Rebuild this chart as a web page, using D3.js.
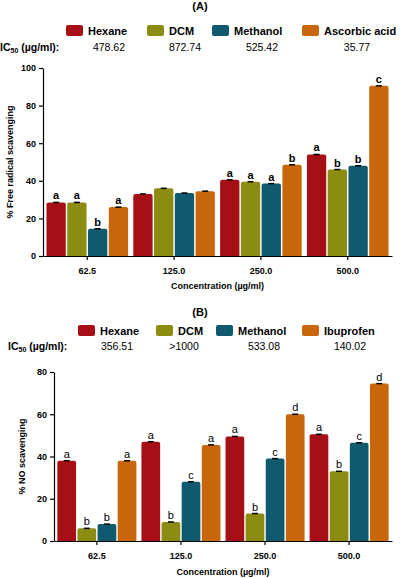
<!DOCTYPE html><html><head><meta charset="utf-8"><script src="https://cdn.jsdelivr.net/npm/d3@7"></script>
<style>body{margin:0;background:#fff}text{font-family:Arial,"Liberation Sans",sans-serif}</style></head><body><svg id="c" width="400" height="578"></svg>
<script>
const categories=["62.5","125.0","250.0","500.0"];
const colors=["#a50f15","#8c8c12","#0f5a6e","#c8660c"];
const seriesA=["Hexane","DCM","Methanol","Ascorbic acid"];
const icA=["478.62","872.74","525.42","35.77"];
const valuesA=[[28.5,33,40.5,54],[28.5,36,39.5,46],[14.5,33.5,38.5,48],[26,34.5,48.5,90.5]];
const lettersA=[["a","","a","a"],["a","","a","b"],["b","","a","b"],["a","","b","c"]];
const seriesB=["Hexane","DCM","Methanol","Ibuprofen"];
const icB=["356.51",">1000","533.08","140.02"];
const valuesB=[[38,47,49.5,50.5],[6,9,13,33],[8,28,39,46.5],[38,45.5,60,74.5]];
const lettersB=[["a","a","a","a"],["b","b","b","b"],["b","c","c","c"],["a","a","d","d"]];
const ticksA=[0,20,40,60,80,100], ticksB=[0,20,40,60,80];
const svg=d3.select("#c");
function panel(o){
  const g=svg.append("g");
  g.append("text").attr("x",200).attr("y",o.titleY).attr("text-anchor","middle").attr("font-size",11).attr("font-weight","bold").text(o.title);
  o.series.forEach((s,i)=>{
    g.append("rect").attr("x",o.legX[i]).attr("y",o.legY-6).attr("width",17).attr("height",11).attr("rx",2).attr("fill",colors[i]);
    g.append("text").attr("x",o.legX[i]+22).attr("y",o.legY+4).attr("font-size",11).attr("font-weight","bold").text(s);
    g.append("text").attr("x",o.icX[i]).attr("y",o.icY).attr("text-anchor","middle").attr("font-size",10.5).text(o.ic[i]);
  });
  const ic=g.append("text").attr("x",o.icLabelX).attr("y",o.icY).attr("font-size",10.5).attr("font-weight","bold");
  ic.append("tspan").text("IC");ic.append("tspan").attr("font-size",7).attr("dy",2).text("50");
  ic.append("tspan").attr("dy",-2).text(" (\u00b5g/ml):");
  const x=d3.scaleBand().domain(categories).range([o.x0,o.x1]).paddingInner(0.06).paddingOuter(0.04);
  const xs=d3.scaleBand().domain(d3.range(4)).range([0,x.bandwidth()]).paddingInner(0.07);
  const y=d3.scaleLinear().domain([0,o.max]).range([o.y0,o.y1]);
  categories.forEach((c,ci)=>{
    for(let si=0;si<4;si++){
      const v=o.vals[si][ci],bx=x(c)+xs(si),w=xs.bandwidth();
      g.append("path").attr("fill",colors[si]).attr("d",`M${bx},${y(0)}V${y(v)+2}Q${bx},${y(v)} ${bx+2},${y(v)}H${bx+w-2}Q${bx+w},${y(v)} ${bx+w},${y(v)+2}V${y(0)}Z`);
      g.append("line").attr("x1",bx+w/2-3).attr("x2",bx+w/2+3).attr("y1",y(v)).attr("y2",y(v)).attr("stroke","#000").attr("stroke-width",1.5);
      const l=o.let[si][ci];
      if(l) g.append("text").attr("x",bx+w/2).attr("y",y(v)-3).attr("text-anchor","middle").attr("font-size",11).attr("font-weight",o.bold?"bold":"normal").text(l);
    }
  });
  const ya=g.append("g").attr("transform",`translate(${o.x0},0)`).call(d3.axisLeft(y).tickValues(o.ticks).tickSize(4).tickSizeOuter(0));
  ya.selectAll("text").attr("font-size",9).attr("font-weight","bold");
  const xa=g.append("g").attr("transform",`translate(0,${o.y0})`).call(d3.axisBottom(x).tickSize(4).tickSizeOuter(0));
  xa.selectAll("text").attr("font-size",9).attr("font-weight","bold").attr("dy","1.2em");
  g.selectAll(".domain,.tick line").attr("stroke","#000").attr("stroke-width",1.2);
  g.append("text").attr("x",(o.x0+o.x1)/2).attr("y",o.xtY).attr("text-anchor","middle").attr("font-size",9).attr("font-weight","bold").text("Concentration (\u00b5g/ml)");
  g.append("text").attr("transform",`translate(${o.ytX},${(o.y0+o.y1)/2}) rotate(-90)`).attr("text-anchor","middle").attr("font-size",9).attr("font-weight","bold").text(o.ytitle);
}
panel({title:"(A)",titleY:10,series:seriesA,legX:[66,147,212,302],legY:31,ic:icA,icX:[109,185,262,357],icY:51,icLabelX:0,
  x0:43,x1:392,y0:256,y1:68,max:100,ticks:ticksA,vals:valuesA,let:lettersA,bold:true,xtY:289,ytX:13,ytitle:"% Free radical scavenging"});
panel({title:"(B)",titleY:316,series:seriesB,legX:[78,156,216,302],legY:331,ic:icB,icX:[117,184,264,350],icY:350,icLabelX:8,
  x0:54,x1:392,y0:541,y1:372,max:80,ticks:ticksB,vals:valuesB,let:lettersB,bold:false,xtY:575,ytX:25,ytitle:"% NO scavenging"});
</script></body></html>
